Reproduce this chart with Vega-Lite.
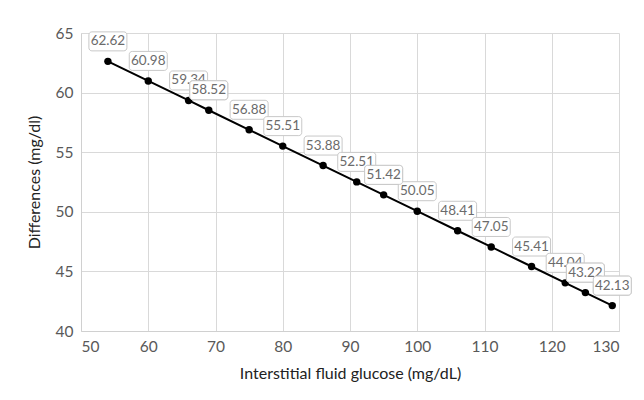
{
  "$schema": "https://vega.github.io/schema/vega-lite/v6.json",
  "width": 538,
  "height": 298,
  "autosize": "none",
  "padding": {"left": 81, "top": 33, "right": 25, "bottom": 69},
  "background": "white",
  "data": {"values": [
    {"x": 54, "y": 62.62},
    {"x": 60, "y": 60.98},
    {"x": 66, "y": 59.34},
    {"x": 69, "y": 58.52},
    {"x": 75, "y": 56.88},
    {"x": 80, "y": 55.51},
    {"x": 86, "y": 53.88},
    {"x": 91, "y": 52.51},
    {"x": 95, "y": 51.42},
    {"x": 100, "y": 50.05},
    {"x": 106, "y": 48.41},
    {"x": 111, "y": 47.05},
    {"x": 117, "y": 45.41},
    {"x": 122, "y": 44.04},
    {"x": 125, "y": 43.22},
    {"x": 129, "y": 42.13}
  ]},
  "encoding": {
    "x": {"field": "x", "type": "quantitative",
      "scale": {"domain": [50, 130], "nice": false, "zero": false},
      "axis": {"values": [50,60,70,80,90,100,110,120,130], "title": "Interstitial fluid glucose (mg/dL)", "labelPadding": 8, "titlePadding": 11}},
    "y": {"field": "y", "type": "quantitative",
      "scale": {"domain": [40, 65], "nice": false, "zero": false},
      "axis": {"values": [40,45,50,55,60,65], "title": "Differences (mg/dl)", "labelPadding": 8, "titlePadding": 13}}
  },
  "layer": [
    {"mark": {"type": "line", "color": "black", "strokeWidth": 2}},
    {"mark": {"type": "point", "filled": true, "color": "black", "size": 55, "opacity": 1}},
    {"mark": {"type": "rect", "width": 38, "height": 19, "yOffset": -20, "fill": "white", "stroke": "#c8c8c8", "strokeWidth": 1, "cornerRadius": 3}},
    {"mark": {"type": "text", "yOffset": -20, "baseline": "middle", "align": "center", "font": "Lato", "fontSize": 13.5, "color": "#6b6b6b"}, "encoding": {"text": {"field": "y", "type": "quantitative", "format": ".2f"}}},
    {"transform": [{"filter": "datum.y == 58.52 || datum.y == 51.42 || datum.y == 43.22"}],
     "mark": {"type": "rect", "width": 38, "height": 19, "yOffset": -20, "fill": "white", "stroke": "#c8c8c8", "strokeWidth": 1, "cornerRadius": 3}},
    {"transform": [{"filter": "datum.y == 58.52 || datum.y == 51.42 || datum.y == 43.22"}],
     "mark": {"type": "text", "yOffset": -20, "baseline": "middle", "align": "center", "font": "Lato", "fontSize": 13.5, "color": "#6b6b6b"}, "encoding": {"text": {"field": "y", "type": "quantitative", "format": ".2f"}}},
    {"transform": [{"filter": "datum.y == 42.13"}],
     "mark": {"type": "rect", "width": 38, "height": 19, "yOffset": -20, "fill": "white", "stroke": "#c8c8c8", "strokeWidth": 1, "cornerRadius": 3}},
    {"transform": [{"filter": "datum.y == 42.13"}],
     "mark": {"type": "text", "yOffset": -20, "baseline": "middle", "align": "center", "font": "Lato", "fontSize": 13.5, "color": "#6b6b6b"}, "encoding": {"text": {"field": "y", "type": "quantitative", "format": ".2f"}}}
  ],
  "config": {
    "view": {"stroke": null},
    "font": "Lato",
    "axis": {
      "labelFont": "Lato", "labelFontSize": 15.5, "labelColor": "#595959",
      "titleFont": "Lato", "titleFontSize": 16, "titleColor": "#222222", "titleFontWeight": "normal",
      "gridColor": "#d9d9d9", "gridWidth": 1, "ticks": false,
      "domainColor": "#d0d0d0", "domainWidth": 1
    }
  }
}
